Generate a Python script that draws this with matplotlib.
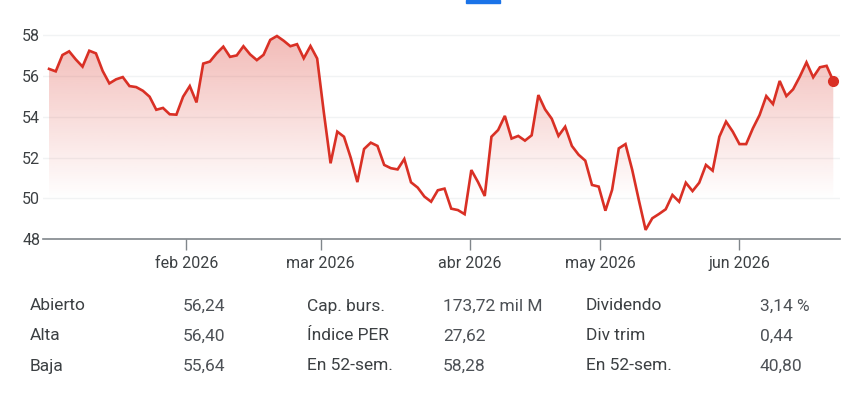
import numpy as np
import matplotlib
matplotlib.use("Agg")
import matplotlib.pyplot as plt
from matplotlib.patches import Rectangle

# -------------------------------------------------
# Data
# -------------------------------------------------
prices = [
    56.34, 56.22, 57.02, 57.20, 56.80, 56.45, 57.23, 57.10, 56.24, 55.63,
    55.83, 55.94, 55.50, 55.45, 55.27, 54.98, 54.34, 54.43, 54.12, 54.10,
    54.98, 55.50, 54.70, 56.60, 56.70, 57.10, 57.43, 56.93, 57.00, 57.45,
    57.05, 56.77, 57.03, 57.76, 57.95, 57.72, 57.45, 57.55, 56.86, 57.46,
    56.85, 54.20, 51.72, 53.27, 53.02, 52.00, 50.80, 52.42, 52.73, 52.57,
    51.64, 51.48, 51.42, 51.93, 50.79, 50.53, 50.09, 49.84, 50.40, 50.48,
    49.50, 49.43, 49.23, 51.39, 50.80, 50.12, 53.02, 53.35, 54.04, 52.93,
    53.06, 52.83, 53.09, 55.06, 54.36, 53.90, 53.06, 53.51, 52.57, 52.14,
    51.85, 50.66, 50.58, 49.40, 50.42, 52.45, 52.66, 51.40, 49.90, 48.46,
    49.03, 49.24, 49.47, 50.17, 49.84, 50.77, 50.36, 50.77, 51.64, 51.36,
    53.02, 53.76, 53.27, 52.66, 52.66, 53.43, 54.08, 55.01, 54.62, 55.75,
    55.01, 55.34, 55.96, 56.66, 55.93, 56.42, 56.49, 55.75,
]
month_labels = ["feb 2026", "mar 2026", "abr 2026", "may 2026", "jun 2026"]
month_pos = [20.5, 40.5, 62.8, 82.25, 103.0]
y_ticks = [48, 50, 52, 54, 56, 58]

stat_labels_1 = ["Abierto", "Alta", "Baja"]
stat_values_1 = ["56,24", "56,40", "55,64"]
stat_labels_2 = ["Cap. burs.", "Índice PER", "En 52-sem."]
stat_values_2 = ["173,72 mil M", "27,62", "58,28"]
stat_labels_3 = ["Dividendo", "Div trim", "En 52-sem."]
stat_values_3 = ["3,14 %", "0,44", "40,80"]

RED = "#d93025"
TXT = "#3c4043"

plt.rcParams["font.family"] = ["Roboto", "DejaVu Sans"]

fig = plt.figure(figsize=(8.61, 4.0), dpi=100)
ax = fig.add_axes([43 / 861, 1 - 239.3 / 400, 797 / 861, (239.3 - 30.9) / 400])

x = np.arange(len(prices))
ymin, ymax = 48, 58.2

# gradient fill under the line
poly = ax.fill_between(x, prices, ymin, color="none", lw=0)
grad = np.zeros((256, 1, 4))
grad[:, 0, :3] = matplotlib.colors.to_rgb(RED)
grad[:, 0, 3] = np.clip(np.linspace(0.34, -0.08, 256), 0, None)
im = ax.imshow(grad, extent=[x[0], x[-1], ymin, ymax], origin="upper",
               aspect="auto", zorder=1)
im.set_clip_path(poly.get_paths()[0], transform=ax.transData)

ax.plot(x, prices, color=RED, lw=1.9, zorder=3, solid_joinstyle="miter")
ax.plot(x[-1], prices[-1], "o", color=RED, ms=7, zorder=4)

ax.set_xlim(-0.9, len(prices) - 1 + 1.0)
ax.set_ylim(ymin, ymax)

ax.set_yticks(y_ticks)
ax.set_yticklabels([str(v) for v in y_ticks])
ax.set_xticks(month_pos)
ax.set_xticklabels(month_labels)
ax.tick_params(axis="y", length=0, pad=2, labelsize=11.5, labelcolor=TXT)
ax.tick_params(axis="x", length=8, width=1, color="#80868b", pad=4,
               labelsize=11.5, labelcolor=TXT)

for s in ["top", "right", "left"]:
    ax.spines[s].set_visible(False)
ax.spines["bottom"].set_color("#80868b")
ax.spines["bottom"].set_linewidth(1.2)

for v in y_ticks[1:]:
    ax.axhline(v, color="#f1f3f4", lw=1, zorder=0)

# small blue tab indicator at the top
fig.patches.append(Rectangle((466 / 861, 1 - 3 / 400), 34 / 861, 3 / 400,
                             transform=fig.transFigure, color="#1a73e8"))

# -------------------------------------------------
# Stats table under the chart
# -------------------------------------------------
row_y = [306, 336, 366]
cols = [
    (30, stat_labels_1), (183, stat_values_1),
    (307, stat_labels_2), (443, stat_values_2),
    (586, stat_labels_3), (760, stat_values_3),
]
for i, (cx, texts) in enumerate(cols):
    color = TXT if i % 2 == 0 else "#4d5156"
    for ry, t in zip(row_y, texts):
        fig.text(cx / 861, 1 - ry / 400, t, ha="left", va="center",
                 fontsize=12.5, color=color)

fig.savefig("out.png", dpi=100)
